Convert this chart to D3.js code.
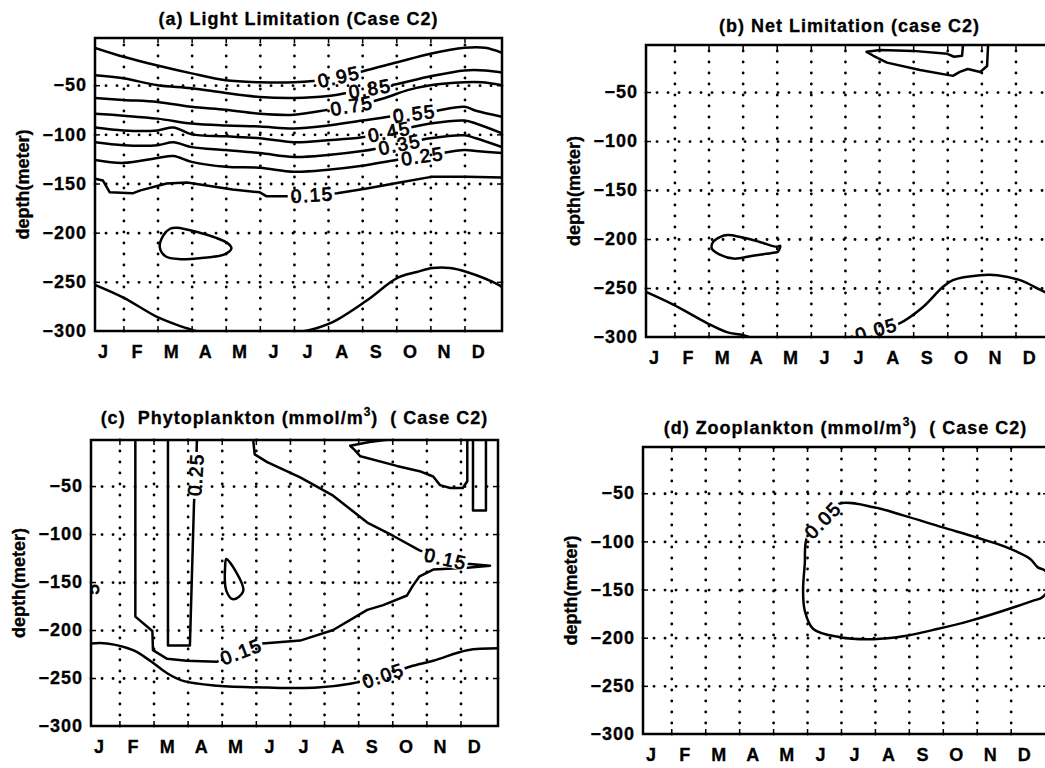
<!DOCTYPE html>
<html>
<head>
<meta charset="utf-8">
<script src="https://cdn.jsdelivr.net/npm/d3@7"></script>
<style>
  body { margin: 0; background: #fff; }
  svg text { font-family: "Liberation Sans", Arial, Helvetica, sans-serif; fill: #000; }
</style>
</head>
<body>
<div id="chart"></div>
<script>
// axis values
const months = ["J","F","M","A","M","J","J","A","S","O","N","D"];
const monthDays = [12, 42, 72, 102, 132, 162, 192, 222, 252, 282, 312, 342];
const gridDays = [30, 60, 90, 120, 150, 180, 210, 240, 270, 300, 330];
const depthTicks = [-50, -100, -150, -200, -250, -300];
const gridDepths = [-50, -100, -150, -200, -250];
const xDomain = [5, 363];
const yDomain = [-300, -2];

// (a) light limitation, contour lines as [day, depth]
const light95 = [[5,-12],[30,-21],[60,-30],[90,-38],[120,-45],[150,-47],[180,-47],[210,-44],[240,-36],[270,-27],[300,-18],[330,-12],[348,-12],[363,-17]];
const light85 = [[5,-40],[30,-43],[60,-50],[90,-53],[120,-58],[150,-62],[180,-63],[210,-61],[240,-55],[270,-49],[300,-41],[330,-35],[348,-35],[363,-37]];
const light75 = [[5,-63],[30,-65],[60,-67],[90,-72],[120,-75],[150,-79],[180,-80],[210,-75],[240,-69],[260,-63],[280,-55],[300,-50],[330,-47],[345,-47],[363,-50]];
const light55 = [[5,-79],[30,-81],[60,-84],[90,-89],[120,-91],[150,-92],[180,-94],[210,-91],[240,-86],[270,-81],[300,-77],[330,-72],[340,-76],[363,-82]];
const light45 = [[5,-93],[30,-96],[60,-96],[74,-93],[90,-100],[120,-102],[150,-104],[180,-108],[210,-106],[240,-103],[270,-96],[300,-89],[330,-86],[340,-89],[363,-99]];
const light35 = [[5,-108],[30,-111],[60,-111],[74,-108],[90,-113],[120,-116],[150,-119],[180,-123],[210,-121],[240,-117],[270,-111],[300,-104],[330,-101],[340,-104],[363,-113]];
const light25 = [[5,-126],[30,-129],[60,-124],[74,-122],[90,-128],[120,-133],[150,-134],[180,-138],[210,-136],[240,-132],[270,-126],[300,-121],[330,-116],[340,-117],[363,-119]];
const light15 = [[5,-145],[12,-147],[18,-159],[38,-160],[45,-157],[68,-150],[86,-149],[126,-156],[150,-159],[156,-163],[177,-163],[218,-160],[244,-155],[273,-149],[302,-143],[332,-143],[363,-144]];
const lightBlob = [[77,-195],[97,-200],[111,-205],[122,-211],[125,-216],[119,-222],[97,-226],[80,-227],[67,-224],[62,-215],[65,-203],[71,-196]];
const lightDeepW = [[5,-253],[30,-266],[60,-286],[80,-295],[97,-301]];
const lightDeepE = [[184,-301],[194,-299],[214,-291],[244,-269],[271,-246],[288,-240],[302,-236],[317,-236],[332,-240],[360,-253],[364,-256]];

// (b) net limitation
const netTop = [[284,0],[283,-13],[276,-14],[270,-11],[240,-8],[211,-7],[199,-9],[205,-13],[217,-20],[246,-27.5],[275,-33.5],[281,-29.5],[288,-26.5],[299,-29.5],[305,-23.5],[306,0]];
const netBlob = [[77,-196],[88,-198],[105,-203],[120,-208],[123,-207],[121,-213],[117,-214],[99,-217],[82,-220],[70,-216],[63,-210],[64,-203],[70,-198]];
const netDeepW = [[5,-254],[29,-267],[59,-286],[76,-295],[90,-298],[98,-301]];
const netDeepE = [[183,-301],[191,-298],[228,-286],[249,-269],[266,-249],[275,-242],[299,-237],[314,-237],[334,-242],[352,-252],[366,-260]];

// (c) phytoplankton
const phyto15 = [[44,0],[44,-186],[59,-201],[59.5,-221],[72,-230],[89,-232],[116,-233],[136,-223],[156,-214],[189,-211],[218,-200],[248,-179],[262,-174],[283,-164],[288,-154],[294,-144],[306,-137],[336,-135],[356,-133],[336,-131],[317,-126],[294,-117],[271,-102],[248,-88],[218,-60],[189,-41],[160,-25],[149,-17],[147.5,0]];
const phyto25 = [[72.7,0],[72.7,-216],[92,-216],[95.6,-68],[97.5,-30],[98.2,0]];
const phytoBlob = [[124,-126],[139,-159],[130,-168],[124,-159],[123,-133]];
const phytoNE = [[277,0],[250,-4],[233,-8],[237,-12.5],[242,-19],[274,-29],[294,-34.5],[306,-40],[312,-49],[321,-52],[332,-52],[336,-45],[336,-5],[336,0]];
const phytoDec = [[341,0],[341,-75.5],[352.4,-75.5],[352.4,0]];
const phyto05 = [[5,-214],[19,-214],[42,-221],[57,-232],[72,-245],[86,-253],[116,-258],[160,-260],[204,-260],[233,-256],[262,-247.5],[286,-238],[306,-232],[336,-221],[363,-219]];

// (d) zooplankton
const zoo05 = [[164,-78],[178,-61],[209,-64.5],[235,-73],[270,-85.5],[300,-96],[326,-106],[347,-118],[354,-127],[360,-130],[366,-142],[358,-158],[350,-161.5],[323.5,-172],[294,-182.5],[265,-191],[235,-198.5],[209,-201.5],[179,-199.5],[155.5,-191],[148,-172],[146.5,-151],[148,-123.5],[150,-96],[164,-78]];

const panels = [
  {
    id: "a", frame: [95, 38, 502, 331], titleDy: -13,
    title: ["(a) Light Limitation (Case C2)"],
    contours: [
      {pts: light95, curve: "smooth"}, {pts: light85, curve: "smooth"}, {pts: light75, curve: "smooth"},
      {pts: light55, curve: "smooth"}, {pts: light45, curve: "smooth"}, {pts: light35, curve: "smooth"},
      {pts: light25, curve: "smooth"}, {pts: light15, curve: "linear"}, {pts: lightBlob, curve: "closed"},
      {pts: lightDeepW, curve: "smooth"}, {pts: lightDeepE, curve: "smooth"}
    ],
    labels: [
      {line: light95, at: [220,-44], text: "0.95"},
      {line: light85, at: [247,-54], text: "0.85"},
      {line: light75, at: [231,-72], text: "0.75"},
      {line: light55, at: [286,-79], text: "0.55"},
      {line: light45, at: [264,-98], text: "0.45"},
      {line: light35, at: [273,-110], text: "0.35"},
      {line: light25, at: [293,-122], text: "0.25"},
      {line: light15, at: [196,-161], text: "0.15"}
    ]
  },
  {
    id: "b", frame: [646, 45, 1053, 337], titleDy: -13,
    title: ["(b) Net Limitation (case C2)"],
    contours: [
      {pts: netTop, curve: "linear"}, {pts: netBlob, curve: "closed"},
      {pts: netDeepW, curve: "smooth"}, {pts: netDeepE, curve: "smooth"}
    ],
    labels: [{line: netDeepE, at: [208,-294], text: "0.05"}]
  },
  {
    id: "c", frame: [91, 440, 498, 726], titleDy: -16,
    title: ["(c)  Phytoplankton (mmol/m", "3", ")  ( Case C2)"],
    contours: [
      {pts: phyto15, curve: "linear"}, {pts: phyto25, curve: "linear"}, {pts: phytoBlob, curve: "closed"},
      {pts: phytoNE, curve: "linear"}, {pts: phytoDec, curve: "linear"}, {pts: phyto05, curve: "smooth"}
    ],
    labels: [
      {line: phyto25, at: [99,-38], text: "0.25"},
      {line: phyto15, at: [317,-126], text: "0.15"},
      {line: phyto15, at: [137,-222], text: "0.15"},
      {line: phyto05, at: [262,-247], text: "0.05"},
      {at: [6.5,-157], angle: -90, text: "5"}
    ]
  },
  {
    id: "d", frame: [643, 447, 1048, 734], titleDy: -13,
    title: ["(d) Zooplankton (mmol/m", "3", ")  ( Case C2)"],
    contours: [{pts: zoo05, curve: "smooth"}],
    labels: [{line: zoo05, at: [164,-78], text: "0.05"}]
  }
];

const width = 1045, height = 768;
const svg = d3.select("#chart").append("svg").attr("width", width).attr("height", height);
const defs = svg.append("defs");
const curves = {
  smooth: d3.curveCatmullRom.alpha(0.5),
  closed: d3.curveCatmullRomClosed.alpha(0.5),
  linear: d3.curveLinear
};

// put a contour label on the nearest segment of its line, turned along it
function placeLabel(l, x, y) {
  const px = x(l.at[0]), py = y(l.at[1]);
  if (!l.line) return {x: px, y: py, angle: l.angle || 0, text: l.text};
  const pts = l.line.map(d => [x(d[0]), y(d[1])]);
  let best = null;
  for (let i = 0; i < pts.length - 1; i++) {
    const [ax, ay] = pts[i], [bx, by] = pts[i + 1];
    const dx = bx - ax, dy = by - ay, len2 = dx * dx + dy * dy || 1;
    const t = Math.max(0, Math.min(1, ((px - ax) * dx + (py - ay) * dy) / len2));
    const qx = ax + t * dx, qy = ay + t * dy;
    const dist = (qx - px) ** 2 + (qy - py) ** 2;
    if (!best || dist < best.dist) best = {dist, x: qx, y: qy, angle: Math.atan2(dy, dx) * 180 / Math.PI};
  }
  let a = best.angle;
  if (a > 90) a -= 180;
  if (a < -90) a += 180;
  return {x: best.x, y: best.y, angle: a, text: l.text};
}

function drawPanel(p) {
  const [left, top, right, bottom] = p.frame;
  const x = d3.scaleLinear().domain(xDomain).range([left, right]);
  const y = d3.scaleLinear().domain(yDomain).range([bottom, top]);
  const g = svg.append("g").attr("class", "panel-" + p.id);

  defs.append("clipPath").attr("id", "clip-" + p.id)
    .append("rect").attr("x", left).attr("y", top)
    .attr("width", right - left).attr("height", bottom - top);

  // dotted grid
  const grid = g.append("g");
  grid.append("g").attr("transform", `translate(0,${bottom})`)
    .call(d3.axisBottom(x).tickValues(gridDays).tickSize(-(bottom - top)).tickFormat(""));
  grid.append("g").attr("transform", `translate(${left},0)`)
    .call(d3.axisLeft(y).tickValues(gridDepths).tickSize(-(right - left)).tickFormat(""));
  grid.selectAll(".domain").remove();
  grid.selectAll("line")
    .attr("stroke", "#000").attr("stroke-width", 2.8)
    .attr("stroke-linecap", "round").attr("stroke-dasharray", "0.1 10.9");

  // small inward ticks on all four sides
  const tk = g.append("g");
  tk.append("g").attr("transform", `translate(0,${bottom})`)
    .call(d3.axisBottom(x).tickValues(gridDays).tickSize(-5).tickFormat(""));
  tk.append("g").attr("transform", `translate(0,${top})`)
    .call(d3.axisTop(x).tickValues(gridDays).tickSize(-5).tickFormat(""));
  tk.append("g").attr("transform", `translate(${left},0)`)
    .call(d3.axisLeft(y).tickValues(gridDepths).tickSize(-5).tickFormat(""));
  tk.append("g").attr("transform", `translate(${right},0)`)
    .call(d3.axisRight(y).tickValues(gridDepths).tickSize(-5).tickFormat(""));
  tk.selectAll(".domain").remove();
  tk.selectAll("line").attr("stroke", "#000").attr("stroke-width", 1.5);

  // tick labels
  const ya = g.append("g").attr("transform", `translate(${left},0)`)
    .call(d3.axisLeft(y).tickValues(depthTicks).tickSize(0).tickPadding(8).tickFormat(d3.format("d")));
  ya.select(".domain").remove();
  const xa = g.append("g").attr("transform", `translate(0,${bottom})`)
    .call(d3.axisBottom(x).tickValues(monthDays).tickSize(0).tickPadding(14).tickFormat((d, i) => months[i]));
  xa.select(".domain").remove();
  g.selectAll(".tick text")
    .attr("font-size", 18).attr("font-weight", "bold").attr("letter-spacing", 1)
    .attr("stroke", "#000").attr("stroke-width", 0.3);

  // axis title and panel title
  g.append("text")
    .attr("transform", `translate(${left - 71},${(top + bottom) / 2}) rotate(-90)`)
    .attr("text-anchor", "middle").attr("dy", "0.3em")
    .attr("font-size", 18).attr("font-weight", "bold")
    .attr("stroke", "#000").attr("stroke-width", 0.3)
    .text("depth(meter)");

  const tt = g.append("text")
    .attr("x", (left + right) / 2).attr("y", top + p.titleDy)
    .attr("text-anchor", "middle").attr("font-size", 18).attr("font-weight", "bold")
    .attr("letter-spacing", 1).style("white-space", "pre")
    .attr("stroke", "#000").attr("stroke-width", 0.3);
  tt.append("tspan").text(p.title[0]);
  if (p.title.length > 1) {
    tt.append("tspan").attr("dy", -8).attr("font-size", 12).text(p.title[1]);
    tt.append("tspan").attr("dy", 8).text(p.title[2]);
  }

  // contours, broken where the labels sit
  const cg = g.append("g").attr("clip-path", `url(#clip-${p.id})`);
  const maskId = "mask-" + p.id;
  const lines = cg.append("g").attr("mask", `url(#${maskId})`);
  lines.selectAll("path").data(p.contours).join("path")
    .attr("d", c => d3.line().x(d => x(d[0])).y(d => y(d[1])).curve(curves[c.curve])(c.pts))
    .attr("fill", "none").attr("stroke", "#000").attr("stroke-width", 2.5)
    .attr("stroke-linejoin", "round");

  const placed = p.labels.map(l => placeLabel(l, x, y));
  const lt = cg.selectAll("text.clabel").data(placed).join("text")
    .attr("class", "clabel")
    .attr("transform", d => `translate(${d.x},${d.y}) rotate(${d.angle})`)
    .attr("text-anchor", "middle").attr("dy", "0.35em")
    .attr("font-size", 19).attr("letter-spacing", 1.5)
    .attr("stroke", "#000").attr("stroke-width", 0.8)
    .text(d => d.text);

  const mask = defs.append("mask").attr("id", maskId).attr("maskUnits", "userSpaceOnUse")
    .attr("x", 0).attr("y", 0).attr("width", width).attr("height", height);
  mask.append("rect").attr("width", width).attr("height", height).attr("fill", "#fff");
  lt.each(function (d) {
    const b = this.getBBox();
    mask.append("rect")
      .attr("x", b.x - 3).attr("y", b.y + 3)
      .attr("width", b.width + 4).attr("height", b.height - 6)
      .attr("transform", `translate(${d.x},${d.y}) rotate(${d.angle})`)
      .attr("fill", "#000");
  });

  // frame
  g.append("rect").attr("x", left).attr("y", top)
    .attr("width", right - left).attr("height", bottom - top)
    .attr("fill", "none").attr("stroke", "#000").attr("stroke-width", 2.5);
}

panels.forEach(drawPanel);
</script>
</body>
</html>
